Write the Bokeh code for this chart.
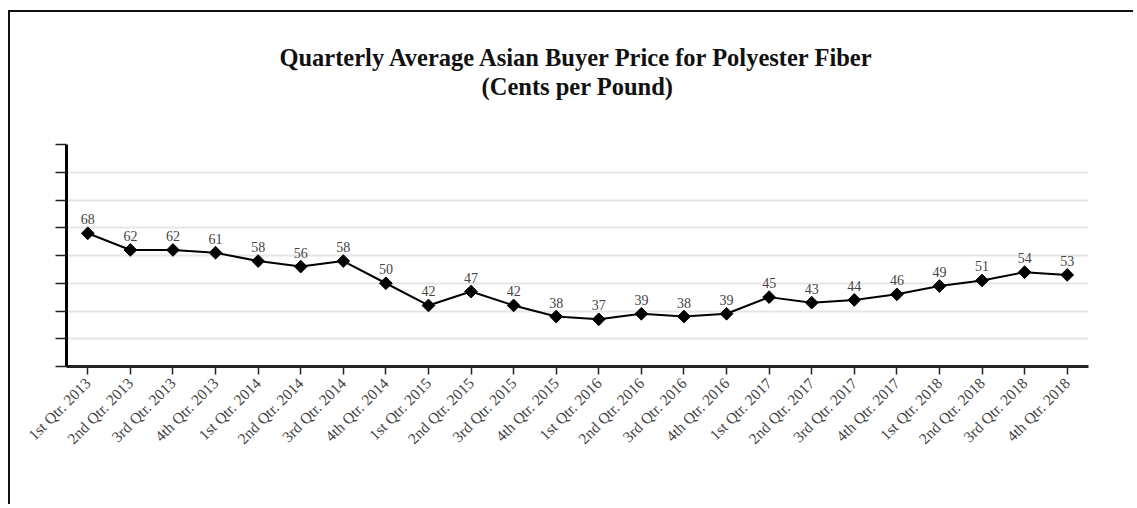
from bokeh.plotting import figure
from bokeh.models import ColumnDataSource, FactorRange, FixedTicker, Title, CustomLabelingPolicy
from bokeh.core.properties import value
from bokeh.embed import file_html
from bokeh.resources import INLINE
import math

quarters = [
    "1st Qtr. 2013", "2nd Qtr. 2013", "3rd Qtr. 2013", "4th Qtr. 2013",
    "1st Qtr. 2014", "2nd Qtr. 2014", "3rd Qtr. 2014", "4th Qtr. 2014",
    "1st Qtr. 2015", "2nd Qtr. 2015", "3rd Qtr. 2015", "4th Qtr. 2015",
    "1st Qtr. 2016", "2nd Qtr. 2016", "3rd Qtr. 2016", "4th Qtr. 2016",
    "1st Qtr. 2017", "2nd Qtr. 2017", "3rd Qtr. 2017", "4th Qtr. 2017",
    "1st Qtr. 2018", "2nd Qtr. 2018", "3rd Qtr. 2018", "4th Qtr. 2018",
]
prices = [68, 62, 62, 61, 58, 56, 58, 50, 42, 47, 42, 38,
          37, 39, 38, 39, 45, 43, 44, 46, 49, 51, 54, 53]
y_ticks = [20, 30, 40, 50, 60, 70, 80, 90, 100]

title_line1 = "Quarterly Average Asian Buyer Price for Polyester Fiber"
title_line2 = "(Cents per Pound)"

FONT = "Liberation Serif"

src = ColumnDataSource(dict(q=quarters, v=prices, lbl=[str(v) for v in prices]))

p = figure(
    x_range=FactorRange(factors=quarters),
    y_range=(y_ticks[0], y_ticks[-1]),
    width=1125, height=494,
    output_backend="svg", toolbar_location=None,
    min_border_left=56, min_border_right=47,
    min_border_top=132, min_border_bottom=140,
    background_fill_color="white", border_fill_color="white",
    outline_line_color=None,
)
p.styles = {"border-top": "2px solid #111", "border-left": "2px solid #111",
            "margin-left": "8px", "margin-top": "10px"}

# spacer between subtitle and plot frame
p.add_layout(Title(text=" ", align="center", text_font=FONT,
                   text_font_size="10px", standoff=32), "above")
p.add_layout(Title(text=title_line2, align="center", text_font=FONT,
                   text_font_size="24.5px", text_font_style="bold",
                   text_color="#111", standoff=0), "above")
p.add_layout(Title(text=title_line1, align="center", text_font=FONT,
                   text_font_size="24.5px", text_font_style="bold",
                   text_color="#111", standoff=0), "above")

p.line("q", "v", source=src, line_color="black", line_width=2)
p.scatter("q", "v", source=src, marker="square", size=9, angle=math.pi / 4,
          fill_color="black", line_color="black")
p.text("q", "v", text="lbl", source=src, text_align="center",
       text_baseline="bottom", y_offset=-9, text_font=value(FONT),
       text_font_size="14px", text_color="#444")

p.yaxis.ticker = FixedTicker(ticks=y_ticks)
p.ygrid.ticker = FixedTicker(ticks=y_ticks)
p.ygrid.grid_line_color = "#e6e6e6"
p.ygrid.grid_line_width = 2
p.xgrid.grid_line_color = None

p.yaxis.axis_line_width = 3
p.yaxis.axis_line_color = "black"
p.yaxis.major_tick_out = 11
p.yaxis.major_tick_in = 0
p.yaxis.major_tick_line_width = 1.5
p.yaxis.major_tick_line_color = "#222"
p.yaxis.minor_tick_line_color = None
p.yaxis.major_label_policy = CustomLabelingPolicy(code="""
    for (const i of indices)
        indices.unset(i)
    return indices
""")

p.xaxis.axis_line_width = 3
p.xaxis.axis_line_color = "#222"
p.xaxis.major_tick_out = 8
p.xaxis.major_tick_in = 0
p.xaxis.major_tick_line_width = 1.5
p.xaxis.major_tick_line_color = "#222"
p.xaxis.major_label_orientation = math.pi / 4
p.xaxis.major_label_text_font = FONT
p.xaxis.major_label_text_font_size = "15.5px"
p.xaxis.major_label_text_color = "#444"
p.xaxis.major_label_standoff = 6

open("out.html", "w").write(file_html(p, INLINE))
